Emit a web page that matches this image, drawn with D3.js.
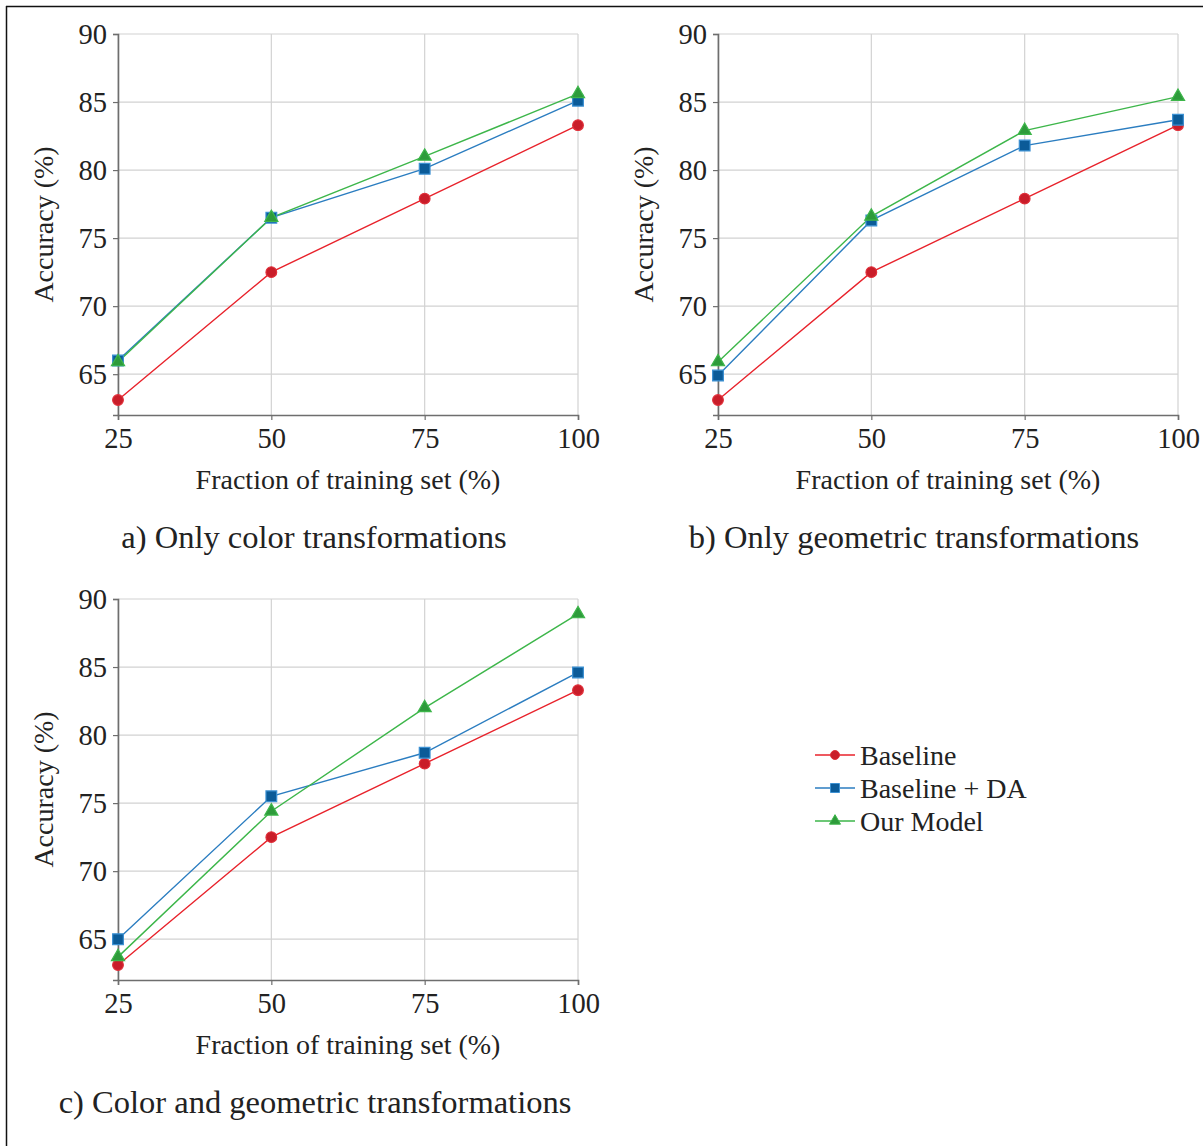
<!DOCTYPE html>
<html>
<head>
<meta charset="utf-8">
<script src="https://cdn.jsdelivr.net/npm/d3@7"></script>
<style>
  body { margin: 0; background: #fff; }
  svg { display: block; }
  text { font-family: "Liberation Serif", "DejaVu Serif", serif; fill: #222; }
</style>
</head>
<body>
<svg id="chart" width="1203" height="1146"></svg>
<script>
// data
var fractions = [25, 50, 75, 100];
var yTicks = [65, 70, 75, 80, 85, 90];
var seriesNames = ["Baseline", "Baseline + DA", "Our Model"];

var colorBaseline = [63.1, 72.5, 77.9, 83.3];
var colorDA       = [66.0, 76.5, 80.1, 85.1];
var colorOurs     = [65.9, 76.5, 81.0, 85.6];

var geoBaseline = [63.1, 72.5, 77.9, 83.3];
var geoDA       = [64.9, 76.3, 81.8, 83.7];
var geoOurs     = [65.9, 76.6, 82.9, 85.4];

var bothBaseline = [63.1, 72.5, 77.9, 83.3];
var bothDA       = [65.0, 75.5, 78.7, 84.6];
var bothOurs     = [63.7, 74.4, 82.0, 88.9];

var panels = [
  {title: "a) Only color transformations", series: [colorBaseline, colorDA, colorOurs], x0: 118, y0: 34, cx: 314},
  {title: "b) Only geometric transformations", series: [geoBaseline, geoDA, geoOurs], x0: 718, y0: 34, cx: 914},
  {title: "c) Color and geometric transformations", series: [bothBaseline, bothDA, bothOurs], x0: 118, y0: 599, cx: 315}
];

var lineColors = ["#e8222b", "#2b7dc0", "#3db64a"];
var markFill = ["#c91d29", "#0b5b98", "#2e9b3b"];
var markStroke = ["#e0303a", "#3b90d2", "#3db64a"];
var markShape = [d3.symbolCircle, d3.symbolSquare, d3.symbolTriangle];
var markSize = [90, 115, 75];

var W = 460, H = 381;
var serif = "Liberation Serif, serif";
var svg = d3.select("#chart");

// frame lines (top and left only)
svg.append("line").attr("x1", 6).attr("x2", 1203).attr("y1", 6.5).attr("y2", 6.5)
  .attr("stroke", "#111").attr("stroke-width", 1.5);
svg.append("line").attr("x1", 6.5).attr("x2", 6.5).attr("y1", 6).attr("y2", 1146)
  .attr("stroke", "#111").attr("stroke-width", 1.5);

function drawPanel(p) {
  var g = svg.append("g").attr("transform", "translate(" + p.x0 + "," + p.y0 + ")");
  var x = d3.scaleLinear().domain([25, 100]).range([0, W]);
  var y = d3.scaleLinear().domain([62, 90]).range([H, 0]);

  // grid
  g.append("g").selectAll("line").data(yTicks).enter().append("line")
    .attr("x1", 0).attr("x2", W)
    .attr("y1", function(d){ return y(d); }).attr("y2", function(d){ return y(d); })
    .attr("stroke", "#d2d2d2").attr("stroke-width", 1.2);
  g.append("g").selectAll("line").data(fractions).enter().append("line")
    .attr("y1", 0).attr("y2", H)
    .attr("x1", function(d){ return x(d); }).attr("x2", function(d){ return x(d); })
    .attr("stroke", "#d2d2d2").attr("stroke-width", 1.2);

  // axes
  var xAxis = g.append("g").attr("transform", "translate(0," + H + ")")
    .call(d3.axisBottom(x).tickValues(fractions).tickSize(5).tickPadding(8));
  var yAxis = g.append("g")
    .call(d3.axisLeft(y).tickValues(yTicks).tickSize(5).tickPadding(6));
  [xAxis, yAxis].forEach(function(a){
    a.attr("font-family", serif);
    a.select(".domain").attr("stroke", "#6e6e6e").attr("stroke-width", 1.6);
    a.selectAll(".tick line").attr("stroke", "#6e6e6e").attr("stroke-width", 1.2);
    a.selectAll(".tick text").style("font-family", serif)
      .style("font-size", "28.5px").attr("fill", "#222");
  });
  yAxis.selectAll(".tick text").attr("dy", "0.34em");

  g.append("text").attr("x", W / 2).attr("y", H + 74).attr("text-anchor", "middle")
    .style("font-size", "28px").text("Fraction of training set (%)");
  g.append("text").attr("transform", "translate(-65," + (H / 2) + ") rotate(-90)")
    .attr("text-anchor", "middle").style("font-size", "28px").text("Accuracy (%)");
  g.append("text").attr("x", p.cx - p.x0).attr("y", H + 133).attr("text-anchor", "middle")
    .style("font-size", "32.5px").text(p.title);

  var line = d3.line().x(function(d, i){ return x(fractions[i]); }).y(function(d){ return y(d); });
  p.series.forEach(function(vals, s) {
    g.append("path").datum(vals).attr("d", line).attr("fill", "none")
      .attr("stroke", lineColors[s]).attr("stroke-width", 1.4);
  });
  p.series.forEach(function(vals, s) {
    g.append("g").selectAll("path").data(vals).enter().append("path")
      .attr("transform", function(d, i){ return "translate(" + x(fractions[i]) + "," + y(d) + ")"; })
      .attr("d", d3.symbol().type(markShape[s]).size(markSize[s]))
      .attr("fill", markFill[s]).attr("stroke", markStroke[s]).attr("stroke-width", 1.2);
  });
}

panels.forEach(drawPanel);

// legend
var leg = svg.append("g").attr("transform", "translate(815,755)");
seriesNames.forEach(function(name, s) {
  var row = leg.append("g").attr("transform", "translate(0," + (s * 33) + ")");
  row.append("line").attr("x1", 0).attr("x2", 40).attr("y1", 0).attr("y2", 0)
    .attr("stroke", lineColors[s]).attr("stroke-width", 1.4);
  row.append("path").attr("transform", "translate(20,0)")
    .attr("d", d3.symbol().type(markShape[s]).size(markSize[s] * 0.7))
    .attr("fill", markFill[s]).attr("stroke", markStroke[s]).attr("stroke-width", 1);
  row.append("text").attr("x", 45).attr("y", 0).attr("dy", "0.34em")
    .style("font-size", "28px").text(name);
});
</script>
</body>
</html>
